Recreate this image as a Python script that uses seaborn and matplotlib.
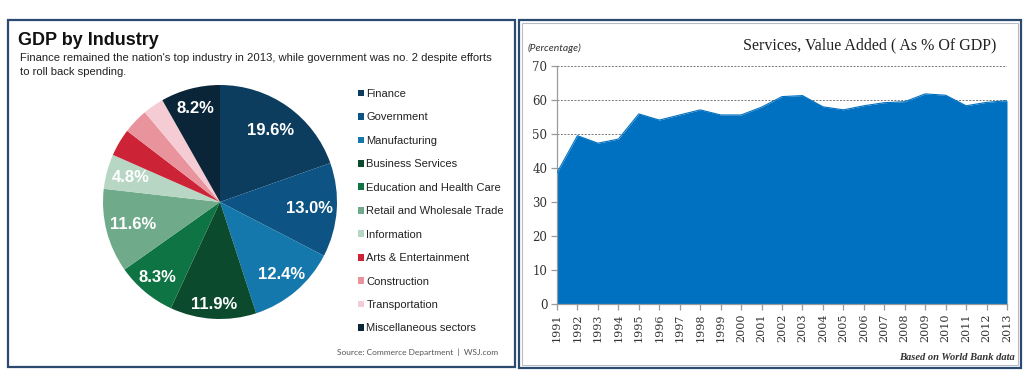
import matplotlib
matplotlib.use("Agg")
import matplotlib.pyplot as plt
import seaborn as sns
import pandas as pd
import numpy as np
from matplotlib.patches import Rectangle

# left panel: GDP by industry, 2013 (% share)
industries = ["Finance", "Government", "Manufacturing", "Business Services",
              "Education and Health Care", "Retail and Wholesale Trade", "Information",
              "Arts & Entertainment", "Construction", "Transportation",
              "Miscellaneous sectors"]
shares = [19.6, 13.0, 12.4, 11.9, 8.3, 11.6, 4.8, 3.8, 3.5, 2.9, 8.2]
pie_colors = ["#0c3d5e", "#0d5484", "#1578ad", "#0b4a2c", "#0f7443", "#6fab8b",
              "#b7d6c4", "#cc2436", "#e9939d", "#f6ccd4", "#0b2538"]
# how far out each percentage label sits (fraction of radius)
label_dist = [0.75, 0.77, 0.81, 0.88, 0.84, 0.77, 0.79, 0.8, 0.8, 0.8, 0.83]

# right panel: services, value added (% of GDP)
years = [1991, 1992, 1993, 1994, 1995, 1996, 1997, 1998, 1999, 2000, 2001, 2002,
         2003, 2004, 2005, 2006, 2007, 2008, 2009, 2010, 2011, 2012, 2013]
services = [38.6, 49.5, 47.3, 48.5, 55.9, 54.1, 55.6, 57.1, 55.6, 55.6, 57.9, 61.0,
            61.3, 58.0, 57.1, 58.3, 59.2, 59.5, 61.8, 61.4, 58.3, 59.3, 59.8]

sns.set_style("white")
plt.rcParams['font.family'] = ['Liberation Sans', 'DejaVu Sans']

W, H = 1026, 383
fig = plt.figure(figsize=(W / 100, H / 100), dpi=100)


def fx(px):
    return px / W


def fy(py):
    return 1 - py / H


# panel borders
fig.patches.append(Rectangle((fx(8), fy(367)), fx(507), 347 / H, transform=fig.transFigure,
                             fill=False, edgecolor="#2b4a6f", lw=1.6))
fig.patches.append(Rectangle((fx(519), fy(368)), fx(502), 348 / H, transform=fig.transFigure,
                             fill=False, edgecolor="#2b4a6f", lw=1.6))
fig.patches.append(Rectangle((fx(522), fy(365)), fx(496), 342 / H, transform=fig.transFigure,
                             fill=False, edgecolor="#b8bcc4", lw=0.8))

# ---- pie ----
fig.text(fx(18), fy(45), "GDP by Industry", fontsize=13, fontweight="bold", color="#111111",
         va="baseline")
fig.text(fx(20), fy(61), "Finance remained the nation's top industry in 2013, while government was no. 2 despite efforts",
         fontsize=8.1, color="#222222", va="baseline")
fig.text(fx(20), fy(75), "to roll back spending.", fontsize=8.1, color="#222222", va="baseline")

ax1 = fig.add_axes([fx(220 - 117), fy(202 + 117), 234 / W, 234 / H])
wedges, _, autotexts = ax1.pie(
    shares, colors=pie_colors, startangle=90, counterclock=False,
    autopct=lambda p: f"{p:.1f}%" if p > 4.5 else "", pctdistance=0.78,
    wedgeprops=dict(linewidth=0), textprops=dict(color="white", fontweight="bold", fontsize=12))
for w, t, d in zip(wedges, autotexts, label_dist):
    ang = np.deg2rad((w.theta1 + w.theta2) / 2)
    t.set_position((d * np.cos(ang), d * np.sin(ang)))
ax1.set_xlim(-1, 1)
ax1.set_ylim(-1, 1)
ax1.set_aspect("equal")

fig.legend(wedges, industries, loc="upper left", bbox_to_anchor=(fx(358), fy(89)),
           frameon=False, fontsize=8, handlelength=0.55, handleheight=0.55,
           handletextpad=0.2, labelspacing=1.21, borderpad=0, borderaxespad=0,
           labelcolor="#222222")

fig.text(fx(498), fy(352), "Source: Commerce Department  |  WSJ.com", fontsize=6,
         color="#555555", ha="right", va="center", family="Lato")

# ---- area chart ----
df = pd.DataFrame({"year": years, "services": services})
ax2 = fig.add_axes([fx(557), fy(304), 450 / W, 238 / H])
ax2.fill_between(df["year"], df["services"], 0, color="#0070c0", lw=0, zorder=2)
sns.lineplot(data=df, x="year", y="services", ax=ax2, color="#0070c0", lw=0.8, zorder=3)
ax2.set_xlim(years[0], years[-1])
ax2.set_ylim(0, 70)
ax2.set_yticks(range(0, 71, 10))
ax2.set_xticks(years)
ax2.set_xticklabels([str(y) for y in years], rotation=90, fontsize=8, family="DejaVu Serif",
                    color="#333333")
ax2.set_yticklabels([str(v) for v in range(0, 71, 10)], fontsize=8.5, family="DejaVu Serif",
                    color="#333333")
ax2.set_xlabel("")
ax2.set_ylabel("")
ax2.grid(axis="y", linestyle=(0, (2, 1.5)), color="#777777", lw=0.7, zorder=1)
ax2.grid(axis="x", visible=False)
for s in ["top", "right"]:
    ax2.spines[s].set_visible(False)
for s in ["left", "bottom"]:
    ax2.spines[s].set_color("#9a9a9a")
    ax2.spines[s].set_linewidth(0.9)
ax2.tick_params(axis="both", direction="out", length=4, width=0.9, color="#9a9a9a", pad=3,
                left=True, bottom=True)

fig.text(fx(996), fy(45), "Services, Value Added ( As % Of GDP)", fontsize=11.5,
         family="Liberation Serif", ha="right", va="center", color="#222222")
fig.text(fx(528), fy(48), "(Percentage)", fontsize=7.5, style="italic", family="Lato",
         ha="left", va="center", color="#333333")
fig.text(fx(1015), fy(357), "Based on World Bank data", fontsize=7.6, style="italic",
         fontweight="bold", family="Liberation Serif", ha="right", va="center", color="#333333")

fig.savefig("out.png", dpi=100, facecolor="white")
